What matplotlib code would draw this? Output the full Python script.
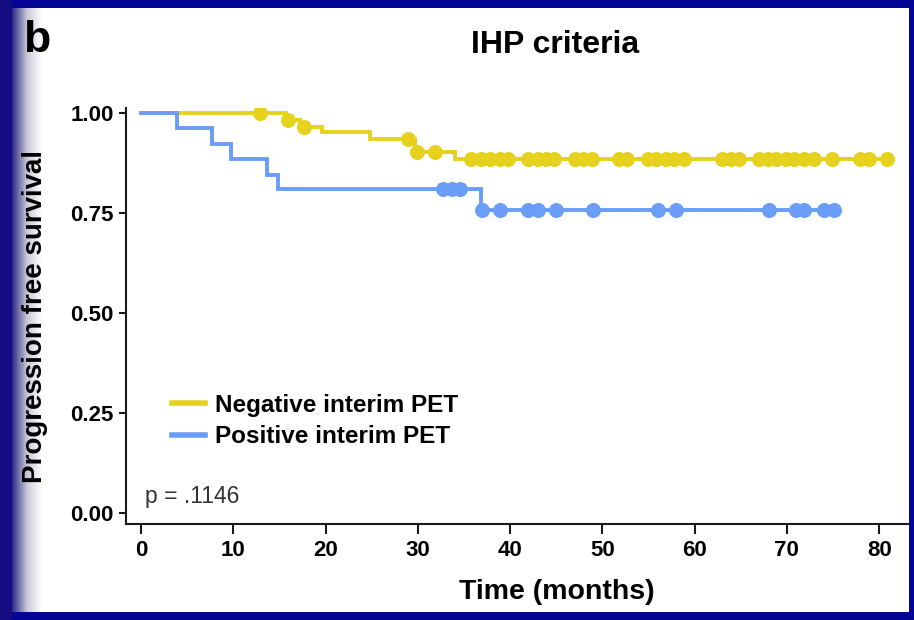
import numpy as np
import matplotlib
matplotlib.use("Agg")
import matplotlib.pyplot as plt
from matplotlib.patches import Rectangle
from matplotlib.colors import LinearSegmentedColormap

plt.rcParams['font.family'] = ['Liberation Sans', 'DejaVu Sans']

# ---------------- data ----------------
groups = ["Negative interim PET", "Positive interim PET"]
colors = ["#E6D21C", "#6A9DF8"]

neg_event_times = [15.7, 17.2, 19.6, 24.8, 29.7, 34.0]
neg_levels = [0.984, 0.966, 0.952, 0.935, 0.903, 0.885]
neg_censor = [12.9, 15.9, 17.7, 28.9, 29.9, 31.9,
              35.8, 36.9, 37.8, 38.9, 39.8, 41.9, 43.0, 43.9, 44.8, 47.0,
              47.9, 48.9, 51.8, 52.7, 54.9, 55.8, 56.9, 57.8, 58.9, 63.0,
              63.9, 64.8, 67.0, 67.9, 68.8, 69.9, 70.8, 71.9, 72.9, 74.9,
              77.9, 78.9, 80.9]

pos_event_times = [3.9, 7.7, 9.8, 13.7, 14.8, 36.8]
pos_levels = [0.962, 0.924, 0.885, 0.846, 0.810, 0.757]
pos_censor = [32.7, 33.7, 34.6, 36.95, 38.9, 41.9, 43.0, 45.0, 49.0, 56.0,
              58.0, 68.1, 71.0, 71.9, 74.0, 75.1]

x_ticks = [0, 10, 20, 30, 40, 50, 60, 70, 80]
y_ticks = [0.00, 0.25, 0.50, 0.75, 1.00]
y_ticklabels = ["0.00", "0.25", "0.50", "0.75", "1.00"]
p_text = "p = .1146"

# ---------------- figure ----------------
W, H = 914, 620
fig = plt.figure(figsize=(W / 100, H / 100), dpi=100)
fig.patch.set_facecolor("white")

ax_l, ax_r, ax_b, ax_t = 126.5, 912, 524, 108.3
ax = fig.add_axes([ax_l / W, (H - ax_b) / H, (ax_r - ax_l) / W, (ax_b - ax_t) / H])

def km(ax, ev, lv, cens, color, label):
    ev = np.asarray(ev)
    lv = np.asarray(lv)
    cens = np.asarray(cens)
    end = max(cens.max(), ev.max())
    t = np.concatenate([[0.0], ev, [end]])
    s = np.concatenate([[1.0], lv, [lv[-1]]])
    line, = ax.step(t, s, where="post", color=color, lw=2.8, label=label,
                    solid_joinstyle="miter", zorder=3)
    full = np.concatenate([[1.0], lv])
    cs = full[np.searchsorted(ev, cens, side="right")]
    ax.plot(cens, cs, "o", color=color, ms=10.8, mew=0, zorder=4)
    return line

h1 = km(ax, neg_event_times, neg_levels, neg_censor, colors[0], groups[0])
h2 = km(ax, pos_event_times, pos_levels, pos_censor, colors[1], groups[1])

ax.set_xlim(-1.57, 83.56)
ax.set_ylim(-0.027, 1.0125)
ax.set_xticks(x_ticks)
ax.set_yticks(y_ticks)
ax.set_yticklabels(y_ticklabels)
for sp in ["top", "right"]:
    ax.spines[sp].set_visible(False)
for sp in ["left", "bottom"]:
    ax.spines[sp].set_linewidth(1.5)
    ax.spines[sp].set_color("#1a1a1a")
ax.tick_params(axis="y", length=5, width=1.5, color="#1a1a1a", pad=4,
               labelsize=16)
ax.tick_params(axis="x", length=7.5, width=1.5, color="#1a1a1a", pad=4,
               labelsize=16)
for lab in ax.get_xticklabels() + ax.get_yticklabels():
    lab.set_fontweight("bold")

leg = ax.legend(handles=[h1, h2], loc="upper left",
                bbox_to_anchor=(172 / W, 1 - 394 / H),
                bbox_transform=fig.transFigure, frameon=False,
                prop={"weight": "bold", "size": 17.5},
                handlelength=1.35, handletextpad=0.42, labelspacing=0.33,
                borderpad=0, borderaxespad=0)
for l in leg.get_lines():
    l.set_linewidth(4)

fig.text(145 / W, 1 - 497 / H, p_text, fontsize=16.5, color="#333333",
         ha="left", va="center")

fig.text(555.5 / W, 1 - 45 / H, "IHP criteria", fontsize=23, fontweight="bold",
         ha="center", va="center")
fig.text(37 / W, 1 - 41 / H, "b", fontsize=32, fontweight="bold",
         ha="center", va="center")
fig.text(556.5 / W, 1 - 592 / H, "Time (months)", fontsize=20.5,
         fontweight="bold", ha="center", va="center")
fig.text(35 / W, 1 - 317 / H, "Progression free survival", fontsize=20,
         fontweight="bold", ha="center", va="center", rotation=90)

# ---------------- frame ----------------
navy = "#050596"
fig.add_artist(Rectangle((0, 1 - 8 / H), 1, 8 / H, transform=fig.transFigure,
                         color=navy, zorder=10, lw=0))
fig.add_artist(Rectangle((0, 0), 1, 8 / H, transform=fig.transFigure,
                         color=navy, zorder=10, lw=0))
fig.add_artist(Rectangle((1 - 5 / W, 0), 5 / W, 1, transform=fig.transFigure,
                         color=navy, zorder=10, lw=0))
fig.add_artist(Rectangle((0, 0), 12 / W, 1, transform=fig.transFigure,
                         color="#140c80", zorder=10, lw=0))
gax = fig.add_axes([12 / W, 8 / H, 30 / W, 1 - 16 / H], zorder=-1)
cmap = LinearSegmentedColormap.from_list("g", ["#2a2a86", "#c8c8d8", "#ffffff"])
gax.imshow(np.linspace(0, 1, 200)[None, :], aspect="auto", cmap=cmap)
gax.axis("off")

fig.savefig("out.png", dpi=100, facecolor=fig.get_facecolor())
